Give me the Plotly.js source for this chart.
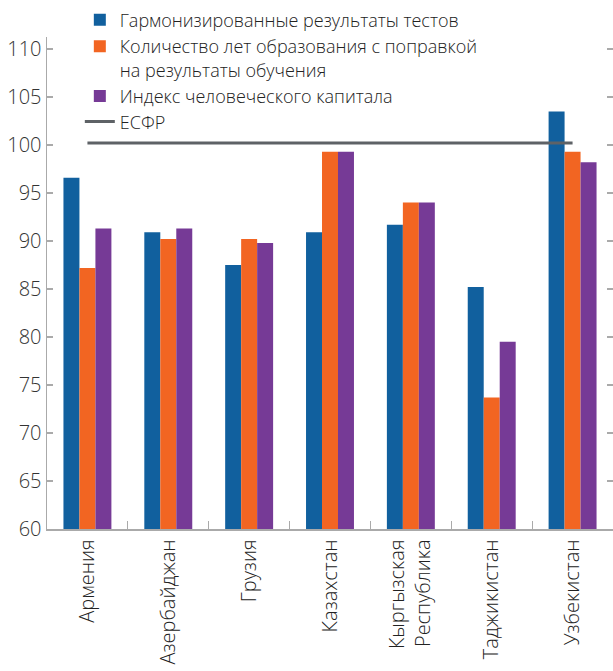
<!DOCTYPE html>
<html>
<head>
<meta charset="utf-8">
<script src="https://cdn.plot.ly/plotly-3.0.1.min.js"></script>
<style>html,body{margin:0;padding:0;background:#fff;}#chart{width:613px;height:671px;}</style>
</head>
<body>
<div id="chart"></div>
<script>
const categories = ["Армения", "Азербайджан", "Грузия", "Казахстан", "Кыргызская<br>Республика", "Таджикистан", "Узбекистан"];
const testScores = [96.6, 90.9, 87.5, 90.9, 91.7, 85.2, 103.5];
const schoolYears = [87.2, 90.2, 90.2, 99.3, 94.0, 73.7, 99.3];
const hci = [91.3, 91.3, 89.8, 99.3, 94.0, 79.5, 98.2];
const ecsf = [100.2, 100.2, 100.2, 100.2, 100.2, 100.2, 100.2];
const seriesNames = ["Гармонизированные результаты тестов", "Количество лет образования с поправкой<br>на результаты обучения", "Индекс человеческого капитала", "ЕСФР"];
const yTicks = [60, 65, 70, 75, 80, 85, 90, 95, 100, 105, 110];

const FONT = "'Open Sans', 'Noto Sans', sans-serif";
const legendFont = {family: FONT, size: 18, color: "#222", weight: 300};
const traces = [
  {type: "bar", x: categories, y: testScores, name: seriesNames[0], marker: {color: "#11609E"}},
  {type: "bar", x: categories, y: schoolYears, name: seriesNames[1], marker: {color: "#F26522"}},
  {type: "bar", x: categories, y: hci, name: seriesNames[2], marker: {color: "#763A96"}},
  {type: "scatter", mode: "lines", x: categories, y: ecsf, name: seriesNames[3], yaxis: "y2",
   legend: "legend2", line: {color: "#5E6266", width: 3}}
];
const yr = [60, 111.25];
const layout = {
  width: 613, height: 671,
  margin: {l: 47, r: 0, t: 37, b: 142},
  paper_bgcolor: "#fff", plot_bgcolor: "#fff",
  font: {family: FONT, color: "#333", size: 18},
  barmode: "group", bargap: 0.407, bargroupgap: 0,
  showlegend: true,
  legend: {x: 0.058, y: 1.072, xanchor: "left", yanchor: "top", bgcolor: "rgba(0,0,0,0)",
           font: legendFont, valign: "top", traceorder: "normal", tracegroupgap: 0},
  legend2: {x: 0.058, y: 0.865, xanchor: "left", yanchor: "top", bgcolor: "rgba(0,0,0,0)",
           font: legendFont, valign: "top"},
  xaxis: {type: "category", showline: true, linecolor: "#AAAAAA", linewidth: 1.5,
          ticks: "inside", tickson: "boundaries", ticklen: 8, tickcolor: "#AAAAAA", tickwidth: 1.2,
          tickangle: -90, tickfont: {family: FONT, size: 20, color: "#222", weight: 300}, ticklabelstandoff: 1,
          showgrid: false, zeroline: false, fixedrange: true},
  yaxis: {range: yr, tickvals: yTicks, showline: true, linecolor: "#AAAAAA", linewidth: 1.5,
          ticks: "inside", ticklen: 6, tickcolor: "#AAAAAA", tickwidth: 1.2,
          tickfont: {family: FONT, size: 20, color: "#333", weight: 300}, showgrid: false, zeroline: false},
  yaxis2: {range: yr, overlaying: "y", side: "right", tickvals: yTicks, showticklabels: false,
           ticks: "inside", ticklen: 6, tickcolor: "#AAAAAA", tickwidth: 1.2,
           showline: false, showgrid: false, zeroline: false}
};
Plotly.newPlot("chart", traces, layout, {displayModeBar: false, staticPlot: true});
</script>
</body>
</html>
